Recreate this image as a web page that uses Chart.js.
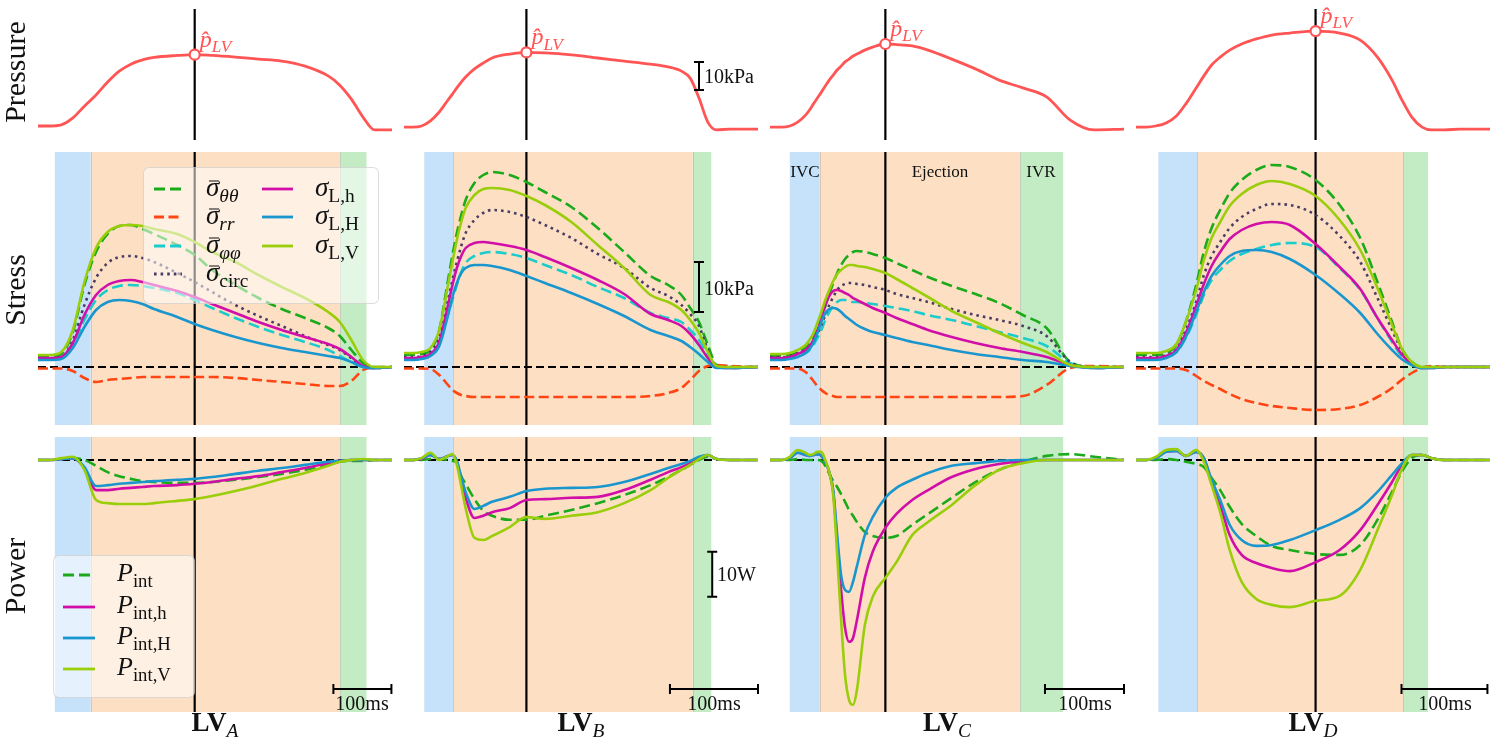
<!DOCTYPE html>
<html>
<head>
<meta charset="utf-8">
<title>LV pressure, stress and power</title>
<script src="https://cdn.jsdelivr.net/npm/chart.js@4.4.1/dist/chart.umd.min.js"></script>
<style>
  body { margin: 0; background: #fff; }
  #fig { position: relative; width: 1500px; height: 750px; overflow: hidden; font-family: "Liberation Serif", "DejaVu Serif", serif; color: #111; }
  #fig canvas { position: absolute; }
  .t { position: absolute; white-space: nowrap; line-height: 1; }
  .c { transform: translate(-50%, -50%); }
  .vc { transform: translateY(-50%); }
  .row { transform: translate(-50%, -50%) rotate(-90deg); font-size: 30px; }
  .lv { transform: translateX(-50%); font-size: 27px; font-weight: bold; }
  .i { font-style: italic; }
  .sb { font-size: 0.72em; position: relative; top: 0.3em; }
  .ov { position: relative; display: inline-block; }
  .ov::after { content: ''; position: absolute; left: 0.12em; right: 0.02em; top: 0.27em; border-top: 0.06em solid currentColor; }
  .box { position: absolute; background: rgba(255,255,255,0.55); border: 1px solid rgba(180,180,180,0.45); border-radius: 6px; }
</style>
</head>
<body>
<div id="fig"></div>
<script>
// time in ms, pressure and stress in kPa, power in W
const tA = [0, 20, 40, 60, 80, 100, 120, 140, 160, 180, 200, 240, 270, 300, 340, 380, 420, 460, 500, 520, 540, 560, 580, 610];
const pressA = [2.5, 2.5, 2.9, 5.4, 9.6, 13.6, 18.2, 22.1, 24.6, 26.1, 27.0, 27.7, 28.0, 27.7, 27.1, 26.4, 25.7, 23.9, 20.4, 17.1, 12.1, 5.7, 1.1, 1.1];
const thetaA = [2.0, 2.0, 2.6, 7.0, 16.4, 23.0, 26.6, 28.2, 28.4, 27.6, 26.6, 24.4, 22.4, 19.4, 16.4, 13.8, 11.6, 9.8, 7.8, 6.2, 3.4, 0.8, 0.0, 0.0];
const rrA = [-0.3, -0.3, -0.3, -0.8, -2.2, -3.0, -2.6, -2.4, -2.2, -2.0, -2.0, -2.0, -2.0, -2.0, -2.2, -2.6, -3.0, -3.4, -3.8, -3.8, -2.8, -0.6, -0.1, 0];
const phiA = [1.6, 1.6, 1.8, 4.4, 9.4, 13.4, 15.4, 16.2, 16.4, 16.2, 15.8, 14.8, 13.4, 11.8, 9.8, 8.0, 6.4, 5.0, 3.4, 2.2, 1.0, 0.0, -0.2, 0.0];
const circA = [1.8, 1.8, 2.0, 5.4, 12.4, 17.8, 20.8, 22.0, 22.2, 21.8, 21.0, 18.8, 17.0, 15.0, 12.4, 10.2, 8.2, 6.2, 4.4, 3.4, 1.8, 0.2, -0.2, 0.0];
const lhA = [1.8, 1.8, 2.0, 4.8, 10.4, 14.4, 16.4, 17.2, 17.4, 17.0, 16.4, 15.2, 14.0, 12.6, 10.8, 9.0, 7.4, 6.0, 4.6, 3.6, 2.0, 0.2, -0.2, 0.0];
const lHA = [1.4, 1.4, 1.6, 3.8, 8.0, 11.4, 13.0, 13.4, 13.2, 12.6, 11.6, 10.0, 8.6, 7.4, 6.0, 4.8, 3.8, 3.0, 2.2, 1.8, 1.0, 0.0, -0.2, 0.0];
const lVA = [2.4, 2.4, 3.0, 7.4, 17.0, 23.8, 27.0, 28.2, 28.4, 28.2, 27.6, 26.6, 25.0, 23.0, 21.0, 18.4, 16.0, 13.8, 11.0, 9.0, 5.4, 1.4, 0.0, 0.0];
const pIntA = [0, 0, 0.2, 0.4, 0, -1.3, -2.7, -3.6, -4.2, -4.7, -4.9, -5.1, -5.1, -4.9, -4.4, -3.8, -3.1, -2.2, -1.1, -0.4, -0.2, -0.2, 0, 0];
const pHA_h = [0, 0, 0.2, 0.4, -1.8, -6.7, -6.7, -6.4, -6.2, -6.0, -5.8, -5.6, -5.3, -4.9, -4.2, -3.6, -2.7, -1.8, -0.7, -0.2, 0, 0, 0, 0];
const pHA_H = [0, 0, 0.2, 0.4, -1.6, -5.8, -5.6, -5.3, -5.1, -4.9, -4.7, -4.4, -4.2, -3.8, -3.1, -2.4, -1.8, -1.1, -0.4, -0.2, 0, 0, 0, 0];
const pHA_V = [0, 0, 0.4, 0.7, -2.2, -8.9, -9.6, -9.8, -9.8, -9.8, -9.6, -9.1, -8.7, -8.0, -6.9, -5.6, -4.2, -2.9, -1.3, -0.4, 0, 0.2, 0, 0];

const tB = [0, 10, 20, 30, 40, 50, 55, 60, 65, 70, 80, 90, 100, 120, 139, 160, 190, 220, 250, 280, 300, 315, 325, 335, 345, 355, 370, 402];
const pressB = [2.1, 2.1, 2.5, 4.3, 7.5, 11.8, 13.9, 16.1, 18.2, 20.0, 22.9, 25.0, 26.8, 28.2, 28.8, 28.6, 27.9, 26.8, 25.7, 24.6, 23.6, 22.1, 19.6, 12.5, 3.9, 1.1, 1.4, 1.4];
const thetaB = [2.4, 2.4, 2.6, 3.4, 7.4, 17.4, 22.4, 26.8, 30.4, 33.4, 36.8, 38.4, 39.0, 38.4, 37.0, 35.0, 32.0, 27.8, 23.0, 18.2, 16.4, 14.4, 11.8, 9.0, 4.4, 0.4, 0, 0];
const rrB = [-0.3, -0.3, -0.3, -0.4, -1.6, -3.6, -4.6, -5.2, -5.6, -5.8, -6.0, -6.0, -6.0, -6.0, -6.0, -6.0, -6.0, -6.0, -6.0, -5.8, -5.2, -4.2, -2.6, -0.8, 0.2, 0.4, 0.2, 0];
const phiB = [1.6, 1.6, 1.8, 2.4, 4.4, 10.4, 13.4, 16.4, 19.0, 20.8, 22.2, 22.8, 23.0, 22.6, 21.8, 20.4, 18.4, 16.0, 13.8, 10.8, 9.8, 9.0, 7.4, 5.4, 2.4, 0, -0.2, 0];
const circB = [2.0, 2.0, 2.2, 3.0, 5.8, 13.4, 17.4, 21.0, 24.2, 26.8, 29.4, 30.8, 31.4, 31.0, 30.0, 28.4, 25.8, 22.6, 19.8, 15.8, 14.2, 12.4, 10.6, 8.2, 3.4, 0.2, 0, 0];
const lhB = [1.8, 1.8, 2.0, 2.6, 5.0, 12.4, 16.4, 19.8, 22.2, 23.8, 24.8, 25.0, 24.8, 24.2, 23.4, 22.0, 19.8, 17.4, 14.6, 10.6, 9.4, 8.2, 6.6, 4.4, 1.8, 0, -0.2, 0];
const lHB = [1.4, 1.4, 1.6, 2.2, 4.2, 10.4, 14.0, 16.8, 18.8, 19.8, 20.4, 20.4, 20.2, 19.4, 18.2, 16.8, 14.8, 12.6, 10.2, 7.4, 6.2, 5.2, 4.0, 2.6, 1.0, -0.2, -0.2, 0];
const lVB = [2.8, 2.8, 3.0, 3.8, 7.4, 16.4, 21.0, 25.4, 29.0, 31.8, 34.4, 35.6, 35.8, 35.4, 34.2, 32.4, 29.0, 24.4, 19.8, 14.4, 13.0, 11.4, 9.4, 6.8, 3.0, 0.2, 0, 0];
const pIntB = [0, 0, 0, 0.2, 0.2, 0, -0.2, -0.7, -3.6, -5.3, -8.7, -11.3, -12.4, -13.3, -13.3, -12.4, -11.1, -9.6, -7.8, -5.6, -3.8, -2.2, -1.1, 0, 0.7, 0.2, 0, 0];
const pHB_h = [0, 0, 0.2, 1.1, 0.2, 0.9, 1.1, -0.4, -4.4, -8.4, -12.9, -12.4, -11.6, -10.7, -8.9, -8.7, -8.4, -8.2, -6.7, -4.4, -2.7, -1.6, -0.7, 0.4, 1.1, 0.2, 0, 0];
const pHB_H = [0, 0, 0.4, 1.1, 0.2, 0.9, 1.1, -0.2, -3.8, -7.1, -10.9, -10.2, -9.3, -8.2, -6.9, -6.4, -6.2, -6.0, -4.9, -3.1, -1.8, -0.9, -0.2, 0.7, 1.1, 0.2, 0, 0];
const pHB_V = [0, 0, 0.4, 1.6, 0, 0.9, 1.3, -1.1, -5.8, -10.7, -17.3, -17.8, -16.9, -14.9, -12.7, -13.1, -12.4, -11.6, -9.6, -6.7, -4.0, -2.2, -1.1, 0.2, 1.1, 0.2, 0, 0];

const tC = [0, 15, 25, 35, 45, 50, 55, 60, 65, 70, 75, 80, 85, 90, 95, 100, 105, 110, 120, 130, 146, 160, 180, 200, 230, 260, 290, 320, 350, 380, 410, 448];
const pressC = [2.1, 2.1, 2.5, 3.9, 6.4, 8.2, 10.4, 12.5, 14.6, 16.8, 18.9, 20.7, 22.5, 23.9, 25.4, 26.4, 27.5, 28.2, 29.6, 30.7, 31.8, 31.6, 31.1, 29.6, 26.4, 22.9, 18.9, 16.1, 12.9, 4.6, 1.1, 1.4];
const thetaC = [2.2, 2.2, 2.4, 3.0, 4.0, 5.0, 6.2, 7.8, 9.8, 12.2, 14.6, 16.8, 18.8, 20.4, 21.6, 22.4, 23.0, 23.2, 23.0, 22.6, 21.8, 20.8, 19.4, 18.0, 16.2, 14.6, 12.8, 10.4, 7.8, 1.0, 0, 0];
const rrC = [-0.3, -0.3, -0.3, -0.3, -1.0, -1.8, -2.8, -3.8, -4.6, -5.2, -5.6, -5.8, -6.0, -6.0, -6.0, -6.0, -6.0, -6.0, -6.0, -6.0, -6.0, -6.0, -6.0, -6.0, -6.0, -6.0, -6.0, -5.8, -3.6, -0.2, 0.2, 0];
const phiC = [1.6, 1.6, 1.8, 2.2, 2.8, 3.4, 4.4, 5.8, 7.4, 9.4, 11.0, 12.2, 13.0, 13.4, 13.4, 13.2, 13.0, 13.0, 12.8, 12.6, 12.2, 11.8, 11.2, 10.4, 9.4, 8.2, 7.0, 5.8, 4.2, 0.8, -0.2, 0];
const circC = [2.0, 2.0, 2.2, 2.8, 3.4, 4.2, 5.2, 6.6, 8.4, 10.4, 12.4, 14.0, 15.4, 16.2, 16.6, 16.8, 16.8, 16.6, 16.4, 16.0, 15.4, 14.6, 13.8, 13.0, 11.6, 10.4, 9.4, 8.2, 6.2, 1.0, 0, 0];
const lhC = [1.8, 1.8, 2.0, 2.6, 3.4, 4.2, 5.4, 7.2, 9.8, 12.4, 14.2, 15.2, 15.4, 15.2, 14.8, 14.4, 13.8, 13.4, 12.6, 11.8, 10.8, 9.8, 8.6, 7.4, 6.0, 4.8, 3.8, 3.0, 2.0, 0.4, -0.2, 0];
const lHC = [1.4, 1.4, 1.6, 2.0, 2.8, 3.6, 4.8, 6.8, 9.0, 10.8, 11.6, 11.8, 11.6, 11.0, 10.2, 9.6, 9.0, 8.4, 7.6, 7.0, 6.4, 5.8, 5.0, 4.4, 3.4, 2.6, 2.0, 1.4, 1.0, 0.2, -0.2, 0];
const lVC = [2.6, 2.6, 2.8, 3.4, 4.4, 5.4, 6.8, 8.8, 11.0, 13.4, 15.4, 17.2, 18.6, 19.4, 20.0, 20.4, 20.4, 20.2, 20.0, 19.6, 18.8, 17.6, 15.8, 14.0, 11.2, 9.0, 6.8, 4.8, 3.0, 0.4, 0, 0];
const pIntC = [0, 0, 0, 0.2, 0, 0, 0, 0, -0.2, -1.3, -3.1, -4.7, -6.0, -7.6, -9.3, -11.1, -12.4, -13.8, -16.0, -16.9, -17.3, -16.9, -14.4, -12.0, -8.4, -4.9, -2.2, -0.4, 0.9, 1.3, 0.7, 0];
const pHC_h = [0, 0, 0.4, 1.6, 1.1, 0.9, 1.1, 1.3, 0.9, -0.4, -2.7, -7.1, -17.8, -28.9, -37.3, -40.4, -39.6, -35.6, -26.2, -20.4, -15.1, -12.0, -8.9, -6.7, -3.8, -2.0, -0.9, -0.2, 0, 0, 0, 0];
const pHC_H = [0, 0, 0.4, 1.6, 1.1, 0.9, 1.1, 1.3, 0.9, -0.4, -2.7, -6.7, -16.7, -25.6, -28.9, -29.3, -27.1, -23.6, -16.7, -12.7, -8.4, -6.2, -4.4, -2.9, -1.3, -0.7, -0.2, 0, 0, 0, 0, 0];
const pHC_V = [0, 0, 0.7, 2.2, 1.6, 1.1, 1.3, 1.8, 1.8, 0, -2.7, -7.8, -21.1, -35.6, -47.8, -53.3, -54.4, -51.1, -36.7, -30.4, -26.2, -22.7, -16.7, -13.8, -10.0, -5.6, -2.2, -0.7, 0, 0, 0, 0];

const tD = [0, 12, 23, 35, 47, 58, 70, 79, 88, 98, 109, 123, 140, 158, 179, 209, 237, 261, 281, 298, 309, 321, 333, 344, 359, 377, 412];
const pressD = [2.1, 2.1, 2.5, 3.6, 6.1, 10.4, 16.1, 20.4, 24.3, 27.1, 29.6, 31.8, 33.6, 35.0, 35.7, 36.4, 35.7, 33.2, 27.1, 18.9, 12.1, 5.7, 2.1, 1.1, 1.1, 1.4, 1.4];
const thetaD = [2.4, 2.4, 2.4, 2.8, 4.4, 9.0, 16.4, 23.0, 27.8, 31.4, 34.8, 37.4, 39.4, 40.4, 40.0, 37.4, 32.4, 25.8, 17.0, 9.0, 3.8, 1.0, 0, 0, 0, 0, 0];
const rrD = [-0.3, -0.3, -0.3, -0.3, -0.3, -0.6, -1.8, -2.8, -3.6, -4.4, -5.4, -6.4, -7.2, -7.8, -8.2, -8.6, -8.4, -7.6, -6.0, -4.2, -2.6, -1.2, -0.2, 0.2, 0, 0, 0];
const phiD = [1.6, 1.6, 1.6, 2.0, 3.0, 5.8, 10.4, 14.4, 17.4, 19.4, 21.2, 22.6, 23.6, 24.4, 24.8, 24.0, 19.8, 15.4, 9.8, 5.0, 2.2, 0.4, -0.2, -0.2, 0, 0, 0];
const circD = [2.0, 2.0, 2.0, 2.4, 3.6, 7.4, 13.0, 18.4, 22.2, 25.0, 27.8, 30.0, 31.6, 32.6, 32.4, 30.4, 26.2, 21.0, 13.8, 7.4, 3.4, 0.8, 0, 0, 0, 0, 0];
const lhD = [1.8, 1.8, 1.8, 2.2, 3.4, 6.8, 12.2, 16.6, 20.2, 23.0, 25.6, 27.4, 28.6, 29.0, 28.4, 24.6, 20.0, 15.6, 9.8, 5.4, 2.6, 0.6, -0.2, -0.2, 0, 0, 0];
const lHD = [1.4, 1.4, 1.4, 1.8, 3.0, 6.0, 11.0, 15.0, 18.2, 20.4, 22.2, 23.2, 23.4, 23.0, 21.6, 18.4, 14.6, 10.8, 6.6, 3.4, 1.6, 0.4, -0.2, -0.2, 0, 0, 0];
const lVD = [2.8, 2.8, 2.8, 3.2, 4.6, 9.0, 15.4, 21.4, 25.8, 29.0, 32.2, 34.6, 36.4, 37.2, 36.6, 34.2, 29.4, 23.4, 15.8, 8.4, 3.8, 1.0, 0, 0, 0, 0, 0];
const pIntD = [0, 0, 0, 0.2, 0, -0.4, -0.9, -1.6, -4.0, -6.7, -10.4, -14.2, -16.9, -19.1, -20.0, -20.9, -21.1, -18.9, -13.3, -7.1, -2.7, 0.4, 1.1, 0.4, 0, 0, 0];
const pHD_h = [0, 0, 0.4, 1.8, 2.0, 0.9, 1.8, 0.4, -4.9, -10.0, -16.7, -21.1, -22.9, -24.0, -24.7, -22.7, -20.0, -15.6, -10.0, -4.9, -1.3, 1.1, 1.1, 0.4, 0, 0, 0];
const pHD_H = [0, 0, 0.4, 1.8, 2.0, 0.9, 1.8, 0.4, -4.4, -8.9, -14.4, -17.8, -19.1, -18.9, -17.8, -15.6, -13.3, -10.7, -7.1, -3.3, -0.9, 1.1, 1.1, 0.4, 0, 0, 0];
const pHD_V = [0, 0, 0.7, 2.2, 2.4, 0.9, 2.2, -0.4, -5.6, -11.6, -20.0, -27.1, -30.9, -32.2, -32.7, -31.3, -30.2, -24.4, -15.6, -7.8, -2.2, 1.1, 1.1, 0.4, 0, 0, 0];

// cardiac phases per case (ms) and the time of peak pressure
const ivcStart = [29, 23, 25, 26];
const ejStart = [91, 56, 63, 71];
const ivrStart = [521, 328, 317, 311];
const ivrEnd = [566, 349, 371, 340];
const peakTime = [270, 139, 146, 209];
const tMax = [610, 402, 448, 412];
const caseNames = ['A', 'B', 'C', 'D'];

const fig = document.getElementById('fig');
const M = 8;
const colLeft = [38, 404, 770, 1136];
const colW = 354;
const rowBox = {
  press: { top: 9, h: 131, min: -2.5, max: 44.3 },
  stress: { top: 152, h: 273, min: -11.6, max: 43 },
  power: { top: 437, h: 275, min: -56, max: 5.1 }
};

const RED = '#ff5555';
const stressStyle = [
  { color: '#1aaa1a', dash: [11, 5] },
  { color: '#ff4513', dash: [10, 4.5] },
  { color: '#1ccbcb', dash: [11, 5] },
  { color: '#4a3d63', dash: [2.6, 4] },
  { color: '#d10fa8', dash: [] },
  { color: '#1a96cf', dash: [] },
  { color: '#9acd0a', dash: [] }
];
const powerStyle = [stressStyle[0], stressStyle[4], stressStyle[5], stressStyle[6]];

Chart.defaults.animation = false;

function line(t, v, st, i) {
  return {
    data: t.map((x, k) => ({ x, y: v[k] })),
    borderColor: st.color, borderWidth: 2.6, borderDash: st.dash,
    pointRadius: 0, fill: false, cubicInterpolationMode: 'monotone',
    order: 20 - i
  };
}

function decor(cfg) {
  return {
    id: 'decor',
    beforeDatasetsDraw(chart) {
      const ctx = chart.ctx, a = chart.chartArea, xs = chart.scales.x, ys = chart.scales.y;
      ctx.save();
      (cfg.bands || []).forEach(([from, to, color]) => {
        const x0 = xs.getPixelForValue(from), x1 = xs.getPixelForValue(to);
        ctx.fillStyle = color;
        ctx.fillRect(x0, a.top, x1 - x0, a.bottom - a.top);
      });
      // faint seams where the phase bands meet
      (cfg.bands || []).slice(1).forEach(([from]) => {
        const x0 = Math.round(xs.getPixelForValue(from)) + 0.5;
        ctx.strokeStyle = 'rgba(150,150,150,0.35)'; ctx.lineWidth = 1;
        ctx.beginPath(); ctx.moveTo(x0, a.top); ctx.lineTo(x0, a.bottom); ctx.stroke();
      });
      if (cfg.zero) {
        const y0 = ys.getPixelForValue(0);
        ctx.strokeStyle = '#000'; ctx.lineWidth = 2; ctx.setLineDash([8, 4]);
        ctx.beginPath(); ctx.moveTo(a.left, y0); ctx.lineTo(a.right, y0); ctx.stroke();
        ctx.setLineDash([]);
      }
      const xv = xs.getPixelForValue(cfg.peak);
      ctx.strokeStyle = '#000'; ctx.lineWidth = 2.2;
      ctx.beginPath(); ctx.moveTo(xv, a.top); ctx.lineTo(xv, a.bottom); ctx.stroke();
      ctx.restore();
    },
    afterDatasetsDraw(chart) {
      const ctx = chart.ctx, xs = chart.scales.x, ys = chart.scales.y;
      ctx.save();
      ctx.strokeStyle = '#000'; ctx.lineWidth = 2;
      (cfg.vbars || []).forEach(([t, v0, v1]) => {
        const x = xs.getPixelForValue(t), y0 = ys.getPixelForValue(v0), y1 = ys.getPixelForValue(v1);
        ctx.beginPath();
        ctx.moveTo(x, y0); ctx.lineTo(x, y1);
        ctx.moveTo(x - 5, y0); ctx.lineTo(x + 5, y0);
        ctx.moveTo(x - 5, y1); ctx.lineTo(x + 5, y1);
        ctx.stroke();
      });
      (cfg.hbars || []).forEach(([t0, t1, v]) => {
        const x0 = xs.getPixelForValue(t0), x1 = xs.getPixelForValue(t1), y = ys.getPixelForValue(v);
        ctx.beginPath();
        ctx.moveTo(x0, y); ctx.lineTo(x1, y);
        ctx.moveTo(x0, y - 5); ctx.lineTo(x0, y + 5);
        ctx.moveTo(x1, y - 5); ctx.lineTo(x1, y + 5);
        ctx.stroke();
      });
      ctx.restore();
    }
  };
}

function panel(col, row, datasets, cfg) {
  const box = rowBox[row];
  const c = document.createElement('canvas');
  c.width = colW + 2 * M; c.height = box.h + 2 * M;
  c.style.left = (colLeft[col] - M) + 'px';
  c.style.top = (box.top - M) + 'px';
  fig.appendChild(c);
  return new Chart(c, {
    type: 'line',
    data: { datasets },
    options: {
      responsive: false, animation: false, events: [],
      layout: { padding: M },
      scales: {
        x: { type: 'linear', min: 0, max: tMax[col], display: false },
        y: { type: 'linear', min: box.min, max: box.max, display: false }
      },
      plugins: { legend: { display: false }, tooltip: { enabled: false } }
    },
    plugins: [decor(cfg)]
  });
}

function txt(html, x, y, cls, style) {
  const d = document.createElement('div');
  d.className = 't ' + (cls || '');
  d.innerHTML = html;
  d.style.left = x + 'px';
  d.style.top = y + 'px';
  if (style) Object.assign(d.style, style);
  fig.appendChild(d);
  return d;
}

const times = [tA, tB, tC, tD];
const press = [pressA, pressB, pressC, pressD];
const stress = [
  [thetaA, rrA, phiA, circA, lhA, lHA, lVA],
  [thetaB, rrB, phiB, circB, lhB, lHB, lVB],
  [thetaC, rrC, phiC, circC, lhC, lHC, lVC],
  [thetaD, rrD, phiD, circD, lhD, lHD, lVD]
];
const power = [
  [pIntA, pHA_h, pHA_H, pHA_V],
  [pIntB, pHB_h, pHB_H, pHB_V],
  [pIntC, pHC_h, pHC_H, pHC_V],
  [pIntD, pHD_h, pHD_H, pHD_V]
];
const timeBarStart = [509, 302, 348, 309];
const timeBarLevel = -50.9;

for (let col = 0; col < 4; col++) {
  const t = times[col];
  const k = t.indexOf(peakTime[col]);
  const bands = [
    [ivcStart[col], ejStart[col], '#c6e1fa'],
    [ejStart[col], ivrStart[col], '#fde0c4'],
    [ivrStart[col], ivrEnd[col], '#c4ecc4']
  ];

  // pressure
  const pCfg = { peak: peakTime[col] };
  if (col === 1) pCfg.vbars = [[335, 15.4, 25.4]];
  const pc = panel(col, 'press', [
    { data: [{ x: peakTime[col], y: press[col][k] }], showLine: false, pointRadius: 5,
      pointBorderWidth: 2.2, pointBackgroundColor: '#fff', pointBorderColor: RED, order: 0, clip: false },
    Object.assign(line(t, press[col], { color: RED, dash: [] }, 0), { borderWidth: 2.8 })
  ], pCfg);
  const mx = colLeft[col] - M + pc.scales.x.getPixelForValue(peakTime[col]);
  const my = rowBox.press.top - M + pc.scales.y.getPixelForValue(press[col][k]);
  txt('<span class="i">p&#770;</span><span class="sb i">LV</span>', mx + 5, my - 28, '', { color: RED, fontSize: '24px' });

  // stress
  const sCfg = { peak: peakTime[col], zero: true, bands };
  if (col === 1) sCfg.vbars = [[335, 11, 21]];
  panel(col, 'stress', stress[col].map((v, i) => line(t, v, stressStyle[i], i)), sCfg);

  // power
  const wCfg = { peak: peakTime[col], zero: true, bands,
    hbars: [[timeBarStart[col], timeBarStart[col] + 100, timeBarLevel]] };
  if (col === 1) wCfg.vbars = [[350, -30.4, -20.4]];
  panel(col, 'power', power[col].map((v, i) => line(t, v, powerStyle[i], i)), wCfg);

  txt('LV<span class="sb i" style="font-weight:normal">' + caseNames[col] + '</span>',
      colLeft[col] + colW / 2, 709, 'lv');
}

// row labels
txt('Pressure', 15, 72, 'row');
txt('Stress', 15, 290, 'row');
txt('Power', 15, 576, 'row');

// scale bar and phase labels
txt('10kPa', 704, 76, 'vc', { fontSize: '20px' });
txt('10kPa', 704, 288, 'vc', { fontSize: '20px' });
txt('10W', 717, 574, 'vc', { fontSize: '20px' });
[362, 714, 1085, 1445].forEach(x => txt('100ms', x, 703, 'c', { fontSize: '20px' }));
txt('IVC', 805, 171, 'c', { fontSize: '17px' });
txt('Ejection', 940, 171, 'c', { fontSize: '17px' });
txt('IVR', 1041, 171, 'c', { fontSize: '17px' });

// legends
function sample(x, y, w, st) {
  const d = st.dash.length ? ' stroke-dasharray="' + st.dash.join(' ') + '"' : '';
  const s = '<svg width="' + w + '" height="6" style="display:block"><line x1="0" y1="3" x2="' + w +
    '" y2="3" stroke="' + st.color + '" stroke-width="2.8"' + d + '/></svg>';
  txt(s, x, y, 'vc');
}
function legendBox(x, y, w, h) {
  const b = document.createElement('div');
  b.className = 'box';
  Object.assign(b.style, { left: x + 'px', top: y + 'px', width: w + 'px', height: h + 'px' });
  fig.appendChild(b);
}
const sig = '<span class="i ov">&sigma;</span>';
const stressLabels = [
  sig + '<span class="sb i">&theta;&theta;</span>',
  sig + '<span class="sb i">rr</span>',
  sig + '<span class="sb i">&phi;&phi;</span>',
  sig + '<span class="sb">circ</span>',
  '<span class="i">&sigma;</span><span class="sb">L,h</span>',
  '<span class="i">&sigma;</span><span class="sb">L,H</span>',
  '<span class="i">&sigma;</span><span class="sb">L,V</span>'
];
legendBox(143, 167, 234, 135);
const sRows = [189, 217, 246, 274];
stressLabels.forEach((lab, i) => {
  const left = i < 4, r = left ? i : i - 4;
  sample(left ? 154 : 262, sRows[r], left ? 28 : 31, stressStyle[i]);
  txt(lab, left ? 206 : 315, sRows[r] - 2, 'vc', { fontSize: '27px' });
});

const powerLabels = ['int', 'int,h', 'int,H', 'int,V'];
legendBox(53, 555, 140, 141);
const pRows = [575, 607, 638, 669];
powerLabels.forEach((lab, i) => {
  sample(63, pRows[i], 32, powerStyle[i]);
  txt('<span class="i">P</span><span class="sb">' + lab + '</span>', 117, pRows[i] - 2, 'vc', { fontSize: '26px' });
});
</script>
</body>
</html>
